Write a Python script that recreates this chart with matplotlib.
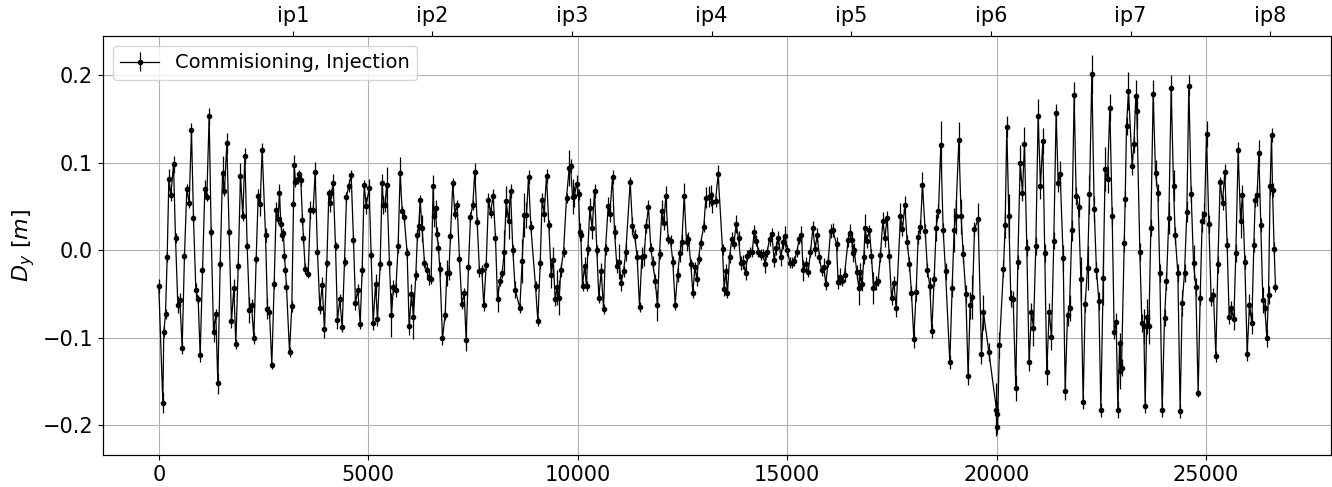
import numpy as np
import matplotlib
matplotlib.use("Agg")
import matplotlib.pyplot as plt

# Vertical dispersion around the ring, BPM by BPM (s in metres, D_y in metres)
s_a = [0, 96, 120, 160, 200, 240, 287, 351, 399, 454, 502, 558, 613, 669, 725, 780, 828, 884, 940, 987,
       1043, 1099, 1147, 1202, 1250, 1306, 1361, 1409, 1465, 1521, 1568, 1624, 1680, 1735, 1791, 1839,
       1895, 1950, 2006, 2054, 2109, 2165, 2213, 2269, 2324, 2372, 2420, 2467]
dy_a = [-0.041, -0.174, -0.093, -0.073, -0.008, 0.081, 0.063, 0.098, 0.014, -0.062, -0.057, -0.111,
        -0.006, 0.070, 0.054, 0.137, 0.037, -0.045, -0.056, -0.120, -0.023, 0.070, 0.061, 0.153, 0.021,
        -0.093, -0.073, -0.152, -0.016, 0.088, 0.068, 0.122, 0.021, -0.081, -0.043, -0.107, -0.018,
        0.085, 0.039, 0.108, 0.005, -0.068, -0.063, -0.100, -0.010, 0.062, 0.053, 0.115]
err_a = [0.008, 0.012, 0.006, 0.006, 0.005, 0.012, 0.007, 0.010, 0.006, 0.010, 0.008, 0.007, 0.005,
         0.006, 0.006, 0.008, 0.005, 0.008, 0.005, 0.007, 0.005, 0.010, 0.005, 0.010, 0.006, 0.012,
         0.006, 0.012, 0.005, 0.020, 0.006, 0.012, 0.005, 0.008, 0.010, 0.006, 0.005, 0.015, 0.006,
         0.009, 0.005, 0.015, 0.007, 0.007, 0.005, 0.008, 0.014, 0.008]

s_b = [2547, 2594, 2642, 2698, 2754, 2801, 2849, 2881, 2913, 2945, 2976, 3000, 3024, 3048, 3120, 3175,
       3215, 3231, 3263, 3311, 3358, 3390, 3430, 3454, 3494, 3565, 3621, 3685, 3732, 3788, 3844, 3900,
       3955, 4011, 4059, 4098, 4122, 4162, 4218, 4265, 4321, 4377, 4433, 4480, 4536, 4592, 4647, 4695,
       4751, 4807, 4854, 4902, 4950, 5021, 5069, 5117, 5173]
dy_b = [0.018, -0.067, -0.070, -0.131, -0.038, 0.046, 0.036, 0.066, 0.030, 0.017, 0.020, -0.006,
        -0.023, -0.042, -0.116, -0.064, 0.053, 0.097, 0.078, 0.082, 0.087, 0.080, 0.035, 0.014, -0.021,
        -0.027, 0.046, 0.046, 0.089, -0.002, -0.066, -0.040, -0.090, -0.015, 0.065, 0.054, 0.065, 0.077,
        0.005, -0.080, -0.056, -0.088, -0.013, 0.061, 0.074, 0.086, 0.012, -0.060, -0.045, -0.084,
        -0.023, 0.075, 0.051, 0.071, -0.005, -0.083, -0.039]
err_b = [0.008, 0.012, 0.006, 0.004, 0.006, 0.009, 0.006, 0.010, 0.008, 0.006,
         0.005, 0.006, 0.005, 0.006, 0.006, 0.006, 0.006, 0.012, 0.006, 0.006,
         0.005, 0.006, 0.006, 0.006, 0.006, 0.005, 0.010, 0.005, 0.012, 0.005,
         0.007, 0.009, 0.010, 0.004, 0.005, 0.010, 0.005, 0.010, 0.005, 0.010,
         0.006, 0.005, 0.005, 0.006, 0.007, 0.006, 0.006, 0.008, 0.006, 0.006,
         0.006, 0.005, 0.010, 0.010, 0.005, 0.008, 0.012]

s_c = [5220, 5284, 5331, 5363, 5395, 5443, 5506, 5554, 5602, 5658,
       5713, 5761, 5809, 5857, 5928, 5976, 6032, 6079, 6135, 6175,
       6207, 6238, 6286, 6342, 6398, 6453, 6501, 6549, 6573, 6605,
       6636, 6676, 6708, 6772, 6835, 6875, 6923, 6963, 7018, 7066,
       7122, 7177, 7233, 7289, 7336, 7392, 7440, 7496, 7543, 7599,
       7655, 7711, 7758, 7814, 7870, 7918]
dy_c = [-0.079, -0.016, 0.077, 0.052, 0.052, 0.075, -0.015, -0.074, -0.042, -0.045,
        0.005, 0.088, 0.045, 0.038, -0.003, -0.087, -0.050, -0.076, -0.028, 0.018,
        0.028, 0.057, 0.025, -0.014, -0.023, -0.032, -0.033, 0.074, 0.039, 0.048,
        0.019, 0.003, -0.021, -0.100, -0.074, -0.026, -0.026, 0.016, 0.077, 0.042,
        0.052, -0.010, -0.061, -0.049, -0.102, -0.019, 0.038, 0.052, 0.090, 0.032,
        -0.024, -0.023, -0.063, -0.017, 0.058, 0.043]
err_c = [0.008, 0.006, 0.010, 0.010, 0.008, 0.020, 0.006, 0.025, 0.008, 0.008,
         0.008, 0.018, 0.006, 0.006, 0.006, 0.010, 0.012, 0.025, 0.006, 0.006,
         0.012, 0.006, 0.015, 0.006, 0.008, 0.008, 0.006, 0.012, 0.012, 0.010,
         0.008, 0.006, 0.008, 0.008, 0.006, 0.015, 0.008, 0.006, 0.006, 0.006,
         0.006, 0.006, 0.006, 0.006, 0.013, 0.006, 0.006, 0.006, 0.010, 0.006,
         0.006, 0.006, 0.006, 0.006, 0.008, 0.006]

s_d = [7982, 8037, 8085, 8141, 8197, 8244, 8292, 8348, 8396, 8451,
       8507, 8618, 8674, 8722, 8777, 8825, 8881, 8992, 9048, 9104,
       9151, 9199, 9255, 9310, 9366, 9414, 9462, 9510, 9557, 9597,
       9661, 9732, 9796, 9828, 9876, 9915, 9979, 10019, 10051, 10074,
       10114, 10162, 10210, 10242, 10289, 10345, 10401, 10456, 10504, 10560,
       10616, 10663]
dy_d = [0.062, 0.014, -0.056, -0.035, -0.026, -0.002, 0.056, 0.033, 0.068, 0.000,
        -0.045, -0.066, -0.012, 0.040, 0.040, 0.084, 0.027, -0.041, -0.081, -0.015,
        0.058, 0.042, 0.085, 0.029, -0.028, -0.011, -0.056, -0.042, -0.054, -0.022,
        -0.002, 0.060, 0.094, 0.096, 0.061, 0.062, 0.076, 0.064, 0.021, 0.017,
        -0.041, -0.018, -0.041, 0.001, 0.048, 0.025, 0.068, 0.000, -0.054, -0.024,
        -0.067, 0.001]
err_d = [0.008, 0.006, 0.015, 0.006, 0.006, 0.025, 0.018, 0.020, 0.008, 0.006,
         0.010, 0.006, 0.025, 0.025, 0.015, 0.008, 0.006, 0.006, 0.006, 0.006,
         0.008, 0.010, 0.008, 0.006, 0.015, 0.015, 0.008, 0.020, 0.020, 0.008,
         0.006, 0.006, 0.020, 0.008, 0.020, 0.012, 0.010, 0.006, 0.010, 0.006,
         0.006, 0.010, 0.006, 0.006, 0.012, 0.012, 0.008, 0.006, 0.006, 0.010,
         0.006, 0.006]

s_e = [10727, 10766, 10830, 10878, 10934, 10989, 11037, 11093, 11148, 11252,
       11307, 11363, 11419, 11475, 11530, 11586, 11634, 11689, 11745, 11793,
       11849, 11904, 11952, 12008, 12055, 12103, 12159, 12215, 12270, 12326,
       12382, 12438, 12485, 12541, 12597, 12644, 12700, 12748, 12796, 12843,
       12883, 12931, 13010, 13058, 13130, 13177, 13209, 13289, 13352]
dy_e = [0.051, 0.042, 0.084, 0.021, -0.018, -0.013, -0.037, -0.024, -0.002, 0.078,
        0.028, 0.016, -0.008, -0.065, -0.008, -0.006, 0.028, 0.049, 0.002, -0.015,
        -0.035, -0.063, -0.004, 0.045, 0.031, 0.062, 0.013, 0.011, -0.013, -0.062,
        -0.028, -0.003, 0.009, 0.062, 0.009, 0.013, -0.016, -0.049, -0.019, -0.033,
        -0.010, 0.008, 0.027, 0.060, 0.061, 0.063, 0.055, 0.056, 0.087]
err_e = [0.010, 0.010, 0.008, 0.008, 0.008, 0.020, 0.010, 0.006, 0.010, 0.006,
         0.010, 0.008, 0.008, 0.006, 0.012, 0.012, 0.008, 0.008, 0.006, 0.008,
         0.008, 0.018, 0.006, 0.012, 0.008, 0.012, 0.006, 0.006, 0.006, 0.006,
         0.008, 0.010, 0.010, 0.015, 0.010, 0.008, 0.006, 0.006, 0.006, 0.008,
         0.006, 0.006, 0.006, 0.012, 0.012, 0.012, 0.012, 0.006, 0.010]

s_f = [13456, 13495, 13535, 13575, 13623, 13678, 13726, 13782, 13838, 13893,
       13949, 14005, 14052, 14108, 14164, 14212, 14267, 14315, 14363, 14418,
       14474, 14522, 14578, 14633, 14689, 14737, 14792, 14848, 14904, 14952,
       15007, 15063, 15119, 15174, 15230, 15286, 15341, 15381, 15437, 15500,
       15556, 15612, 15668, 15715, 15771, 15819, 15875, 15922, 15978, 16034,
       16089]
dy_f = [0.001, -0.044, -0.024, -0.049, -0.008, 0.013, 0.007, 0.030, 0.014, -0.015,
        -0.013, -0.026, -0.006, -0.002, -0.002, 0.021, 0.011, -0.002, -0.005, -0.004,
        -0.016, -0.002, 0.013, 0.019, -0.011, 0.003, 0.014, -0.008, 0.009, 0.016,
        0.000, -0.014, -0.014, -0.012, -0.002, 0.013, 0.018, -0.023, -0.016, -0.025,
        -0.002, 0.025, 0.001, 0.018, -0.008, -0.023, -0.019, -0.039, -0.013, 0.022,
        0.023]
err_f = [0.006, 0.008, 0.008, 0.006, 0.006, 0.008, 0.006, 0.010, 0.008, 0.008,
         0.008, 0.008, 0.006, 0.006, 0.006, 0.008, 0.006, 0.006, 0.006, 0.006,
         0.010, 0.006, 0.008, 0.006, 0.008, 0.008, 0.008, 0.010, 0.008, 0.012,
         0.006, 0.006, 0.006, 0.006, 0.006, 0.006, 0.010, 0.012, 0.008, 0.006,
         0.006, 0.008, 0.008, 0.008, 0.006, 0.006, 0.010, 0.006, 0.006, 0.008,
         0.008]

s_g = [16177, 16216, 16264, 16312, 16368, 16455, 16495, 16543, 16559, 16598,
       16662, 16710, 16742, 16789, 16829, 16861, 16901, 16964, 17012, 17060,
       17116, 17171, 17227, 17283, 17330, 17386, 17434, 17490, 17545, 17601,
       17704, 17752, 17808, 17863, 17919, 17967, 18023, 18078, 18126, 18182,
       18229, 18293, 18349, 18405, 18452, 18508, 18556, 18611, 18667, 18723,
       18779]
dy_g = [0.007, -0.036, -0.030, -0.035, -0.028, 0.012, 0.020, 0.012, -0.003, 0.000,
        -0.025, -0.043, -0.025, -0.039, -0.008, 0.026, 0.011, 0.023, -0.007, -0.043,
        -0.037, -0.035, -0.005, 0.034, 0.014, 0.037, -0.006, -0.054, -0.037, -0.066,
        0.039, 0.024, 0.052, 0.010, -0.016, -0.049, -0.101, -0.048, 0.015, 0.027,
        0.075, 0.022, -0.023, -0.041, -0.092, -0.033, 0.026, 0.045, 0.120, 0.023,
        -0.024]
err_g = [0.008, 0.008, 0.010, 0.006, 0.008, 0.008, 0.010, 0.008, 0.010, 0.008,
         0.008, 0.020, 0.010, 0.008, 0.008, 0.015, 0.008, 0.006, 0.008, 0.018,
         0.008, 0.006, 0.008, 0.010, 0.010, 0.008, 0.008, 0.008, 0.008, 0.010,
         0.015, 0.008, 0.010, 0.008, 0.008, 0.008, 0.010, 0.010, 0.008, 0.008,
         0.015, 0.008, 0.008, 0.010, 0.008, 0.008, 0.015, 0.008, 0.028, 0.008,
         0.010]

s_h = [18882, 18937, 18985, 19025, 19097, 19152, 19200, 19264, 19319, 19367,
       19423, 19471, 19558, 19638, 19685, 19813, 19996, 20004, 20020, 20067,
       20163, 20203, 20242, 20290, 20338, 20394, 20457, 20505, 20561, 20616,
       20664, 20720, 20775, 20831, 20879, 20935, 20990, 21046, 21102, 21149,
       21197, 21253, 21309, 21364, 21420, 21468, 21516]
dy_h = [-0.128, -0.043, 0.023, 0.039, 0.126, 0.039, -0.004, -0.050, -0.144, -0.063,
        -0.053, 0.024, 0.036, -0.118, -0.071, -0.116, -0.182, -0.187, -0.202, -0.108,
        -0.021, 0.029, 0.141, 0.039, -0.055, -0.056, -0.157, -0.013, 0.100, 0.066,
        0.121, 0.003, -0.128, -0.070, -0.089, 0.005, 0.153, 0.074, 0.125, -0.003,
        -0.139, -0.070, -0.099, 0.011, 0.157, 0.077, 0.087]
err_h = [0.008, 0.010, 0.025, 0.020, 0.020, 0.020, 0.010, 0.010, 0.010, 0.015,
         0.025, 0.008, 0.018, 0.012, 0.020, 0.010, 0.030, 0.015, 0.008, 0.015,
         0.010, 0.015, 0.012, 0.025, 0.010, 0.010, 0.015, 0.008, 0.020, 0.010,
         0.020, 0.010, 0.010, 0.010, 0.020, 0.010, 0.020, 0.015, 0.015, 0.010,
         0.015, 0.010, 0.015, 0.010, 0.010, 0.010, 0.015]

s_i = [21588, 21636, 21691, 21739, 21795, 21850, 21898, 21954, 22010, 22065,
       22113, 22169, 22216, 22272, 22328, 22383, 22439, 22487, 22543, 22590,
       22646, 22702, 22757, 22805, 22853, 22893, 22933, 22956, 22980, 23044,
       23068, 23100, 23147, 23235, 23275, 23322, 23346, 23418, 23466, 23513,
       23545, 23585, 23633, 23681, 23736, 23792, 23848, 23895, 23951, 24007,
       24054, 24110, 24166, 24222, 24261]
dy_i = [-0.009, -0.161, -0.074, -0.066, 0.023, 0.177, 0.062, 0.050, -0.033, -0.173,
        -0.061, -0.020, 0.064, 0.201, 0.047, -0.023, -0.058, -0.182, -0.032, 0.093,
        0.081, 0.163, 0.039, -0.093, -0.082, -0.182, -0.106, -0.138, -0.134, 0.008,
        0.059, 0.142, 0.182, 0.096, 0.121, 0.176, 0.159, -0.002, -0.083, -0.087,
        -0.178, -0.076, -0.087, 0.026, 0.179, 0.088, 0.066, -0.026, -0.182, -0.077,
        -0.035, 0.037, 0.185, 0.074, 0.017]
err_i = [0.015, 0.010, 0.012, 0.015, 0.012, 0.015, 0.010, 0.012, 0.025, 0.008,
         0.010, 0.025, 0.022, 0.022, 0.015, 0.010, 0.010, 0.008, 0.030, 0.025,
         0.015, 0.015, 0.010, 0.008, 0.010, 0.010, 0.012, 0.020, 0.010, 0.010,
         0.010, 0.010, 0.022, 0.010, 0.010, 0.018, 0.020, 0.010, 0.010, 0.020,
         0.008, 0.020, 0.020, 0.010, 0.015, 0.015, 0.010, 0.010, 0.008, 0.010,
         0.010, 0.018, 0.015, 0.018, 0.010]

s_j = [24325, 24380, 24428, 24484, 24540, 24587, 24643, 24699, 24754, 24810,
       24858, 24905, 24961, 25009, 25065, 25120, 25176, 25232, 25280, 25335,
       25391, 25447, 25502, 25550, 25598, 25662, 25709, 25765, 25821, 25868,
       25924, 25980, 26035, 26091, 26139, 26171, 26218, 26258, 26306, 26354,
       26402, 26449, 26489, 26529, 26561, 26585, 26624, 26656]
dy_j = [-0.026, -0.183, -0.060, -0.026, 0.044, 0.188, 0.064, -0.014, -0.042, -0.163,
        -0.054, 0.033, 0.042, 0.133, 0.030, -0.056, -0.051, -0.121, -0.016, 0.078,
        0.054, 0.090, 0.006, -0.076, -0.066, -0.079, -0.003, 0.114, 0.034, 0.063,
        -0.013, -0.118, -0.062, -0.083, 0.006, 0.057, 0.063, 0.111, 0.029, -0.057,
        -0.066, -0.100, -0.051, 0.073, 0.132, 0.069, 0.001, -0.042]
err_j = [0.010, 0.008, 0.015, 0.010, 0.012, 0.012, 0.010, 0.020, 0.010, 0.005,
         0.008, 0.012, 0.012, 0.015, 0.010, 0.008, 0.008, 0.006, 0.010, 0.006,
         0.008, 0.008, 0.008, 0.008, 0.008, 0.012, 0.010, 0.010, 0.020, 0.012,
         0.008, 0.008, 0.012, 0.012, 0.008, 0.008, 0.012, 0.015, 0.008, 0.015,
         0.008, 0.010, 0.010, 0.010, 0.008, 0.008, 0.008, 0.006]

# Interaction point positions for the top axis
ip_pos = [3199, 6530, 9862, 13194, 16526, 19860, 23195, 26520]
ip_names = ["ip1", "ip2", "ip3", "ip4", "ip5", "ip6", "ip7", "ip8"]

s = np.concatenate([s_a, s_b, s_c, s_d, s_e, s_f, s_g, s_h, s_i, s_j])
dy = np.concatenate([dy_a, dy_b, dy_c, dy_d, dy_e, dy_f, dy_g, dy_h, dy_i, dy_j])
err = np.concatenate([err_a, err_b, err_c, err_d, err_e, err_f, err_g, err_h, err_i, err_j])

fig = plt.figure(figsize=(13.32, 4.87), dpi=100)
ax = fig.add_axes([0.0773, 0.0657, 0.9222, 0.8604])

ax.errorbar(s, dy, yerr=err, fmt='-o', color='black', lw=0.9, ms=3,
            elinewidth=0.9, label="Commisioning, Injection")

ax.grid(True, color='#b0b0b0', lw=0.8)
ax.set_axisbelow(True)
ax.set_ylabel(r"$D_y\ [m]$", fontsize=16)
ax.tick_params(labelsize=15)
ax.legend(loc='upper left', fontsize=14)

ax2 = ax.twiny()
ax2.set_xlim(ax.get_xlim())
ax2.set_xticks(ip_pos)
ax2.set_xticklabels(ip_names)
ax2.tick_params(labelsize=15)

fig.savefig("out.png", dpi=100)
